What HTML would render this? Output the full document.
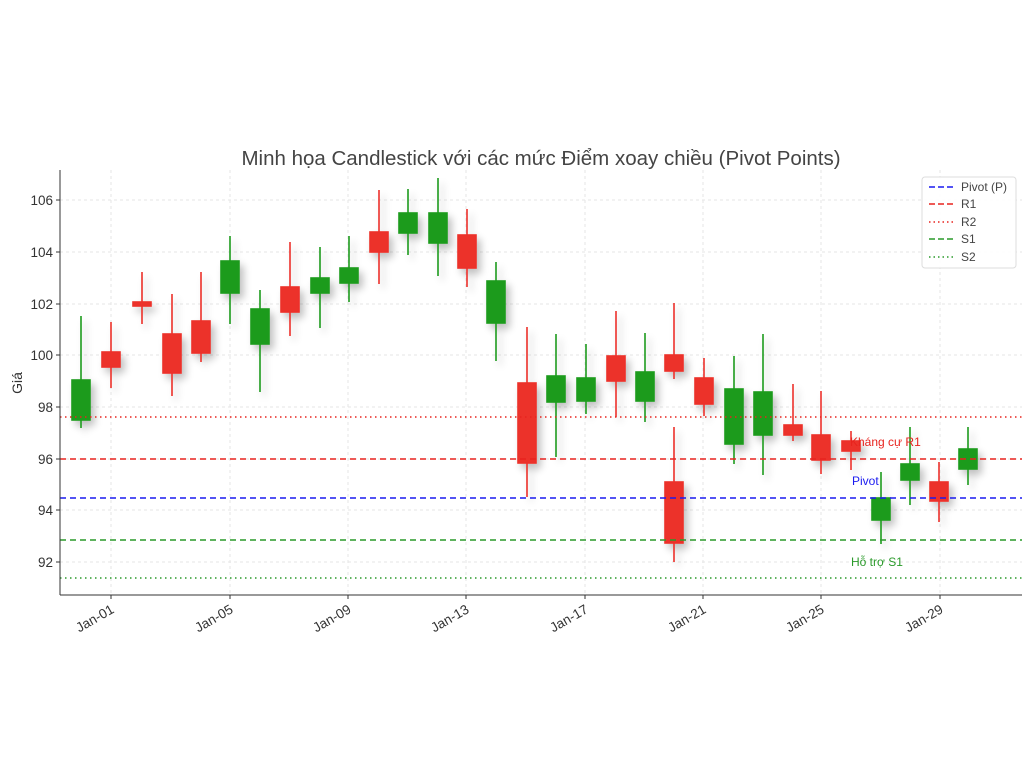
<!DOCTYPE html>
<html><head><meta charset="utf-8"><style>body{margin:0;background:#fff}</style></head><body>
<svg width="1036" height="776" xmlns="http://www.w3.org/2000/svg" font-family="Liberation Sans, DejaVu Sans, sans-serif">
<defs><filter id="sh" x="-50%" y="-50%" width="200%" height="200%"><feGaussianBlur in="SourceAlpha" stdDeviation="4"/><feOffset dx="4" dy="5"/><feComponentTransfer><feFuncA type="linear" slope="0.25"/></feComponentTransfer><feMerge><feMergeNode/><feMergeNode in="SourceGraphic"/></feMerge></filter></defs>
<text x="541" y="165" font-size="20.5" fill="#444" text-anchor="middle">Minh họa Candlestick với các mức Điểm xoay chiều (Pivot Points)</text>
<g stroke="#e6e6e6" stroke-dasharray="3,3" stroke-width="1">
<line x1="60" x2="1022" y1="200" y2="200"/><line x1="60" x2="1022" y1="252" y2="252"/><line x1="60" x2="1022" y1="304" y2="304"/><line x1="60" x2="1022" y1="355" y2="355"/><line x1="60" x2="1022" y1="407" y2="407"/><line x1="60" x2="1022" y1="459" y2="459"/><line x1="60" x2="1022" y1="510" y2="510"/><line x1="60" x2="1022" y1="562" y2="562"/>
<line y1="170" y2="595" x1="111" x2="111"/><line y1="170" y2="595" x1="230" x2="230"/><line y1="170" y2="595" x1="348" x2="348"/><line y1="170" y2="595" x1="466" x2="466"/><line y1="170" y2="595" x1="585" x2="585"/><line y1="170" y2="595" x1="703" x2="703"/><line y1="170" y2="595" x1="821" x2="821"/><line y1="170" y2="595" x1="940" x2="940"/>
</g>
<g filter="url(#sh)" stroke-width="1.6">
<g stroke="#1e9b1e" fill="#1e9b1e">
<line x1="81" x2="81" y1="316" y2="428"/><rect x="72" y="380" width="18" height="40"/>
<line x1="230" x2="230" y1="236" y2="324"/><rect x="221" y="261" width="18" height="32"/>
<line x1="260" x2="260" y1="290" y2="392"/><rect x="251" y="309" width="18" height="35"/>
<line x1="320" x2="320" y1="247" y2="328"/><rect x="311" y="278" width="18" height="15"/>
<line x1="349" x2="349" y1="236" y2="302"/><rect x="340" y="268" width="18" height="15"/>
<line x1="408" x2="408" y1="189" y2="255"/><rect x="399" y="213" width="18" height="20"/>
<line x1="438" x2="438" y1="178" y2="276"/><rect x="429" y="213" width="18" height="30"/>
<line x1="496" x2="496" y1="262" y2="361"/><rect x="487" y="281" width="18" height="42"/>
<line x1="556" x2="556" y1="334" y2="457"/><rect x="547" y="376" width="18" height="26"/>
<line x1="586" x2="586" y1="344" y2="414"/><rect x="577" y="378" width="18" height="23"/>
<line x1="645" x2="645" y1="333" y2="422"/><rect x="636" y="372" width="18" height="29"/>
<line x1="734" x2="734" y1="356" y2="464"/><rect x="725" y="389" width="18" height="55"/>
<line x1="763" x2="763" y1="334" y2="475"/><rect x="754" y="392" width="18" height="43"/>
<line x1="881" x2="881" y1="472" y2="544"/><rect x="872" y="498" width="18" height="22"/>
<line x1="910" x2="910" y1="427" y2="505"/><rect x="901" y="464" width="18" height="16"/>
<line x1="968" x2="968" y1="427" y2="485"/><rect x="959" y="449" width="18" height="20"/>
</g>
<g stroke="#ec302a" fill="#ec302a">
<line x1="111" x2="111" y1="322" y2="388"/><rect x="102" y="352" width="18" height="15"/>
<line x1="142" x2="142" y1="272" y2="324"/><rect x="133" y="302" width="18" height="4"/>
<line x1="172" x2="172" y1="294" y2="396"/><rect x="163" y="334" width="18" height="39"/>
<line x1="201" x2="201" y1="272" y2="362"/><rect x="192" y="321" width="18" height="32"/>
<line x1="290" x2="290" y1="242" y2="336"/><rect x="281" y="287" width="18" height="25"/>
<line x1="379" x2="379" y1="190" y2="284"/><rect x="370" y="232" width="18" height="20"/>
<line x1="467" x2="467" y1="209" y2="287"/><rect x="458" y="235" width="18" height="33"/>
<line x1="527" x2="527" y1="327" y2="497"/><rect x="518" y="383" width="18" height="80"/>
<line x1="616" x2="616" y1="311" y2="417"/><rect x="607" y="356" width="18" height="25"/>
<line x1="674" x2="674" y1="303" y2="379"/><rect x="665" y="355" width="18" height="16"/>
<line x1="674" x2="674" y1="427" y2="562"/><rect x="665" y="482" width="18" height="61"/>
<line x1="704" x2="704" y1="358" y2="416"/><rect x="695" y="378" width="18" height="26"/>
<line x1="793" x2="793" y1="384" y2="441"/><rect x="784" y="425" width="18" height="10"/>
<line x1="821" x2="821" y1="391" y2="474"/><rect x="812" y="435" width="18" height="25"/>
<line x1="851" x2="851" y1="431" y2="470"/><rect x="842" y="441" width="18" height="10"/>
<line x1="939" x2="939" y1="462" y2="522"/><rect x="930" y="482" width="18" height="19"/>
</g>
</g>
<g stroke-width="1.6">
<line x1="60" x2="1022" y1="417" y2="417" stroke="#e8231e" stroke-dasharray="1.5,3.5"/>
<line x1="60" x2="1022" y1="459" y2="459" stroke="#e8231e" stroke-dasharray="6,4"/>
<line x1="60" x2="1022" y1="498" y2="498" stroke="#1a1af0" stroke-dasharray="6,4"/>
<line x1="60" x2="1022" y1="540" y2="540" stroke="#2a9a2a" stroke-dasharray="6,4"/>
<line x1="60" x2="1022" y1="578" y2="578" stroke="#2a9a2a" stroke-dasharray="1.5,3.5"/>
</g>
<text x="850" y="446" font-size="12" fill="#e8231e">Kháng cự R1</text>
<text x="852" y="485" font-size="12" fill="#1a1af0">Pivot</text>
<text x="851" y="566" font-size="12" fill="#2a9a2a">Hỗ trợ S1</text>
<g stroke="#333" stroke-width="1"><line x1="60" x2="60" y1="170" y2="595"/><line x1="60" x2="1022" y1="595" y2="595"/></g>
<g font-size="13.5" fill="#333" text-anchor="end">
<text x="53" y="205">106</text><text x="53" y="257">104</text><text x="53" y="309">102</text><text x="53" y="360">100</text><text x="53" y="412">98</text><text x="53" y="464">96</text><text x="53" y="515">94</text><text x="53" y="567">92</text>
</g>
<g stroke="#333"><line x1="56" x2="60" y1="200" y2="200"/><line x1="56" x2="60" y1="252" y2="252"/><line x1="56" x2="60" y1="304" y2="304"/><line x1="56" x2="60" y1="355" y2="355"/><line x1="56" x2="60" y1="407" y2="407"/><line x1="56" x2="60" y1="459" y2="459"/><line x1="56" x2="60" y1="510" y2="510"/><line x1="56" x2="60" y1="562" y2="562"/>
<line x1="111" x2="111" y1="595" y2="599"/><line x1="230" x2="230" y1="595" y2="599"/><line x1="348" x2="348" y1="595" y2="599"/><line x1="466" x2="466" y1="595" y2="599"/><line x1="585" x2="585" y1="595" y2="599"/><line x1="703" x2="703" y1="595" y2="599"/><line x1="821" x2="821" y1="595" y2="599"/><line x1="940" x2="940" y1="595" y2="599"/></g>
<g font-size="13.5" fill="#333" text-anchor="end">
<text transform="translate(115,612) rotate(-30)">Jan-01</text><text transform="translate(234,612) rotate(-30)">Jan-05</text><text transform="translate(352,612) rotate(-30)">Jan-09</text><text transform="translate(470,612) rotate(-30)">Jan-13</text><text transform="translate(589,612) rotate(-30)">Jan-17</text><text transform="translate(707,612) rotate(-30)">Jan-21</text><text transform="translate(825,612) rotate(-30)">Jan-25</text><text transform="translate(944,612) rotate(-30)">Jan-29</text>
</g>
<text transform="translate(22,383) rotate(-90)" font-size="14" fill="#333" text-anchor="middle">Giá</text>
<rect x="922" y="177" width="94" height="91" rx="3" fill="#fff" fill-opacity="0.9" stroke="#ddd"/>
<g stroke-width="1.6">
<line x1="929" x2="953" y1="187" y2="187" stroke="#1a1af0" stroke-dasharray="6,3"/>
<line x1="929" x2="953" y1="204" y2="204" stroke="#e8231e" stroke-dasharray="6,3"/>
<line x1="929" x2="953" y1="222" y2="222" stroke="#e8231e" stroke-dasharray="1.5,3"/>
<line x1="929" x2="953" y1="239" y2="239" stroke="#2a9a2a" stroke-dasharray="6,3"/>
<line x1="929" x2="953" y1="257" y2="257" stroke="#2a9a2a" stroke-dasharray="1.5,3"/>
</g>
<g font-size="12" fill="#444"><text x="961" y="191">Pivot (P)</text><text x="961" y="208">R1</text><text x="961" y="226">R2</text><text x="961" y="243">S1</text><text x="961" y="261">S2</text></g>
</svg>
</body></html>
